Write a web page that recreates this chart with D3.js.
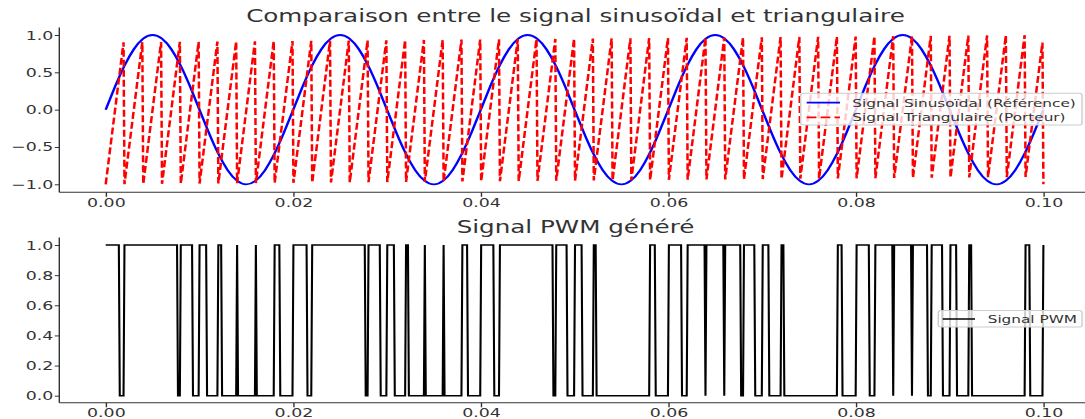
<!DOCTYPE html>
<html>
<head>
<meta charset="utf-8">
<script src="https://cdn.jsdelivr.net/npm/d3@7"></script>
<style>
  body { margin: 0; background: #fff; }
  text { font-family: "DejaVu Sans", sans-serif; fill: #333; }
</style>
</head>
<body>
<div id="chart"></div>
<script>
// reference sine, sampled every 1 ms (50 Hz over 0.1 s)
var sineStep = 0.001;
var sineValues = [
  0, 0.309, 0.588, 0.809, 0.951, 1, 0.951, 0.809, 0.588, 0.309,
  0, -0.309, -0.588, -0.809, -0.951, -1, -0.951, -0.809, -0.588, -0.309,
  0, 0.309, 0.588, 0.809, 0.951, 1, 0.951, 0.809, 0.588, 0.309,
  0, -0.309, -0.588, -0.809, -0.951, -1, -0.951, -0.809, -0.588, -0.309,
  0, 0.309, 0.588, 0.809, 0.951, 1, 0.951, 0.809, 0.588, 0.309,
  0, -0.309, -0.588, -0.809, -0.951, -1, -0.951, -0.809, -0.588, -0.309,
  0, 0.309, 0.588, 0.809, 0.951, 1, 0.951, 0.809, 0.588, 0.309,
  0, -0.309, -0.588, -0.809, -0.951, -1, -0.951, -0.809, -0.588, -0.309,
  0, 0.309, 0.588, 0.809, 0.951, 1, 0.951, 0.809, 0.588, 0.309,
  0, -0.309, -0.588, -0.809, -0.951, -1, -0.951, -0.809, -0.588, -0.309,
  0
];

// carrier teeth: start of each ramp and its peak
var toothStart = [
  0, 0.002002, 0.004004, 0.006006, 0.008008, 0.01001, 0.012012, 0.014014, 0.016016, 0.018018,
  0.02002, 0.022022, 0.024024, 0.026026, 0.028028, 0.03003, 0.032032, 0.034034, 0.036036, 0.038038,
  0.04004, 0.042042, 0.044044, 0.046046, 0.048048, 0.05005, 0.052052, 0.054054, 0.056056, 0.058058,
  0.06006, 0.062062, 0.064064, 0.066066, 0.068068, 0.07007, 0.072072, 0.074074, 0.076076, 0.078078,
  0.08008, 0.082082, 0.084084, 0.086086, 0.088088, 0.09009, 0.092092, 0.094094, 0.096096, 0.098098
];
var toothPeak = [
  0.001902, 0.003904, 0.005906, 0.007908, 0.00991, 0.011912, 0.013914, 0.015916, 0.017918, 0.01992,
  0.021922, 0.023924, 0.025926, 0.027928, 0.02993, 0.031932, 0.033934, 0.035936, 0.037938, 0.03994,
  0.041942, 0.043944, 0.045946, 0.047948, 0.04995, 0.051952, 0.053954, 0.055956, 0.057958, 0.05996,
  0.061962, 0.063964, 0.065966, 0.067968, 0.06997, 0.071972, 0.073974, 0.075976, 0.077978, 0.07998,
  0.081982, 0.083984, 0.085986, 0.087988, 0.08999, 0.091992, 0.093994, 0.095996, 0.097998, 0.0999
];
var toothLow = [
  -1, -0.998, -0.996, -0.994, -0.992, -0.99, -0.988, -0.986, -0.984, -0.982,
  -0.98, -0.978, -0.976, -0.974, -0.972, -0.97, -0.968, -0.966, -0.964, -0.962,
  -0.96, -0.958, -0.956, -0.954, -0.952, -0.95, -0.948, -0.946, -0.944, -0.942,
  -0.94, -0.938, -0.936, -0.934, -0.932, -0.93, -0.928, -0.926, -0.924, -0.922,
  -0.92, -0.918, -0.916, -0.914, -0.912, -0.91, -0.908, -0.906, -0.904, -0.902
];
var toothHigh = [
  0.902, 0.904, 0.906, 0.908, 0.91, 0.912, 0.914, 0.916, 0.918, 0.92,
  0.922, 0.924, 0.926, 0.928, 0.93, 0.932, 0.934, 0.936, 0.938, 0.94,
  0.942, 0.944, 0.946, 0.948, 0.95, 0.952, 0.954, 0.956, 0.958, 0.96,
  0.962, 0.964, 0.966, 0.968, 0.97, 0.972, 0.974, 0.976, 0.978, 0.98,
  0.982, 0.984, 0.986, 0.988, 0.99, 0.992, 0.994, 0.996, 0.998, 0.9
];
var carrierEnd = [0.1, -1];

// PWM high runs (first and last high sample)
var pwmStep = 0.0001001;
var pwmOn = [
  0, 0.002002, 0.008008, 0.01001, 0.012012, 0.014014, 0.016016, 0.018018,
  0.02002, 0.022022, 0.028028, 0.03003, 0.032032, 0.034034, 0.036036, 0.038038,
  0.04004, 0.042042, 0.048048, 0.05005, 0.052052, 0.058058,
  0.06006, 0.062062, 0.064064, 0.066066, 0.068068, 0.07007, 0.072072, 0.078078,
  0.08008, 0.082082, 0.084084, 0.086086, 0.088088, 0.09009, 0.092092, 0.098098, 0.1
];
var pwmOff = [
  0.0014014, 0.0076076, 0.0092092, 0.0107107, 0.0123123, 0.014014, 0.016016, 0.0185185,
  0.0214214, 0.0276276, 0.0292292, 0.0307307, 0.0322322, 0.034034, 0.036036, 0.0385385,
  0.0413413, 0.0476476, 0.0491491, 0.0507507, 0.0522522, 0.0585585,
  0.0613613, 0.0638638, 0.0658658, 0.0676676, 0.0691691, 0.0706706, 0.0722722, 0.0784784,
  0.0813813, 0.0838838, 0.0858858, 0.0875875, 0.0891891, 0.0906906, 0.0922922, 0.0984984, 0.1
];

var xTicks = [0, 0.02, 0.04, 0.06, 0.08, 0.10];
var yTicksTop = [-1, -0.5, 0, 0.5, 1];
var yTicksBot = [0, 0.2, 0.4, 0.6, 0.8, 1];

var titleTop = "Comparaison entre le signal sinusoïdal et triangulaire";
var titleBot = "Signal PWM généré";
var legendTop = ["Signal Sinusoïdal (Référence)", "Signal Triangulaire (Porteur)"];
var legendBot = ["Signal PWM"];

// the picture is stretched horizontally, so draw everything in a squeezed frame
var W = 1085, H = 419, sx = 1.39;
var px = function(v) { return v / sx; };

var svg = d3.select("#chart").append("svg")
    .attr("width", W)
    .attr("height", H);

var root = svg.append("g").attr("transform", "scale(" + sx + ",1)");

var x = d3.scaleLinear().domain([0, 0.1]).range([px(105.7), px(1043.4)]);
var yTop = d3.scaleLinear().domain([-1, 1]).range([184.3, 35]);
var yBot = d3.scaleLinear().domain([0, 1]).range([395.7, 245]);

var axisColor = "#333";

var drawPanel = function(y, yTicks, yFmt, top, bottom) {
    var g = root.append("g");

    var xa = g.append("g")
        .attr("transform", "translate(0," + bottom + ")")
        .call(d3.axisBottom(x).tickValues(xTicks).tickFormat(d3.format(".2f"))
            .tickSize(4.5).tickSizeOuter(0).tickPadding(1));
    var ya = g.append("g")
        .attr("transform", "translate(" + px(59.3) + ",0)")
        .call(d3.axisLeft(y).tickValues(yTicks).tickFormat(d3.format(yFmt))
            .tickSize(px(4.5)).tickSizeOuter(0).tickPadding(px(1.5)));

    [xa, ya].forEach(function(a) {
        a.select(".domain").remove();
        a.attr("font-family", null).attr("font-size", null);
        a.selectAll("line").attr("stroke", axisColor).attr("stroke-width", 1);
        a.selectAll("text")
            .attr("fill", axisColor)
            .style("font-size", "12.5px");
    });

    g.append("line")
        .attr("x1", px(59.3)).attr("x2", px(59.3))
        .attr("y1", top).attr("y2", bottom)
        .attr("stroke", axisColor).attr("stroke-width", 1);
    g.append("line")
        .attr("x1", px(59.3)).attr("x2", px(1090))
        .attr("y1", bottom).attr("y2", bottom)
        .attr("stroke", axisColor).attr("stroke-width", 1);
    return g;
};

drawPanel(yTop, yTicksTop, ".1f", 27.6, 192.3);
drawPanel(yBot, yTicksBot, ".1f", 237.6, 402.8);

// top panel curves
root.append("path")
    .datum(sineValues)
    .attr("fill", "none")
    .attr("stroke", "#0000ff")
    .attr("stroke-width", 1.8)
    .attr("d", d3.line()
        .x(function(d, i) { return x(i * sineStep); })
        .y(function(d) { return yTop(d); })
        .curve(d3.curveNatural));

var carrierPts = [];
toothStart.forEach(function(t, i) {
    carrierPts.push([t, toothLow[i]]);
    carrierPts.push([toothPeak[i], toothHigh[i]]);
});
carrierPts.push(carrierEnd);

root.append("path")
    .datum(carrierPts)
    .attr("fill", "none")
    .attr("stroke", "#ff0000")
    .attr("stroke-width", 1.8)
    .attr("stroke-dasharray", "7,3")
    .attr("d", d3.line()
        .x(function(d) { return x(d[0]); })
        .y(function(d) { return yTop(d[1]); }));

// PWM
var pwmPts = [];
pwmOn.forEach(function(a, i) {
    var b = pwmOff[i];
    if (a > 0) pwmPts.push([a - pwmStep, 0]);
    pwmPts.push([a, 1]);
    pwmPts.push([b, 1]);
    if (b < 0.1) pwmPts.push([b + pwmStep, 0]);
});

root.append("path")
    .datum(pwmPts)
    .attr("fill", "none")
    .attr("stroke", "#000")
    .attr("stroke-width", 1.5)
    .attr("stroke-linejoin", "miter")
    .attr("d", d3.line()
        .x(function(d) { return x(d[0]); })
        .y(function(d) { return yBot(d[1]); }));

// titles
root.append("text")
    .attr("x", px(575.5)).attr("y", 22)
    .attr("text-anchor", "middle")
    .style("font-size", "17.7px")
    .text(titleTop);
root.append("text")
    .attr("x", px(575.5)).attr("y", 233)
    .attr("text-anchor", "middle")
    .style("font-size", "17.7px")
    .text(titleBot);

// legends
var drawLegend = function(x0, x1, y0, y1, rows) {
    var lg = root.append("g");
    lg.append("rect")
        .attr("x", px(x0)).attr("y", y0)
        .attr("width", px(x1 - x0)).attr("height", y1 - y0)
        .attr("rx", 2)
        .attr("fill", "#fff").attr("fill-opacity", 0.8)
        .attr("stroke", "#ccc").attr("stroke-width", 1);
    rows.forEach(function(r) {
        lg.append("line")
            .attr("x1", px(r.hx0)).attr("x2", px(r.hx1))
            .attr("y1", r.y).attr("y2", r.y)
            .attr("stroke", r.color).attr("stroke-width", r.w || 1.8)
            .attr("stroke-dasharray", r.dash || null);
        lg.append("text")
            .attr("x", px(r.tx)).attr("y", r.y + 4)
            .style("font-size", "11px")
            .text(r.label);
    });
};

drawLegend(800.7, 1082, 93.3, 125, [
    {hx0: 806.7, hx1: 840, tx: 852.3, y: 102.7, color: "#0000ff", label: legendTop[0]},
    {hx0: 806.7, hx1: 840, tx: 852.3, y: 117.3, color: "#ff0000", dash: "7,3", label: legendTop[1]}
]);
drawLegend(938.3, 1082, 310.5, 327, [
    {hx0: 942.7, hx1: 975, tx: 987.7, y: 319, color: "#000", w: 1.5, label: legendBot[0]}
]);
</script>
</body>
</html>
